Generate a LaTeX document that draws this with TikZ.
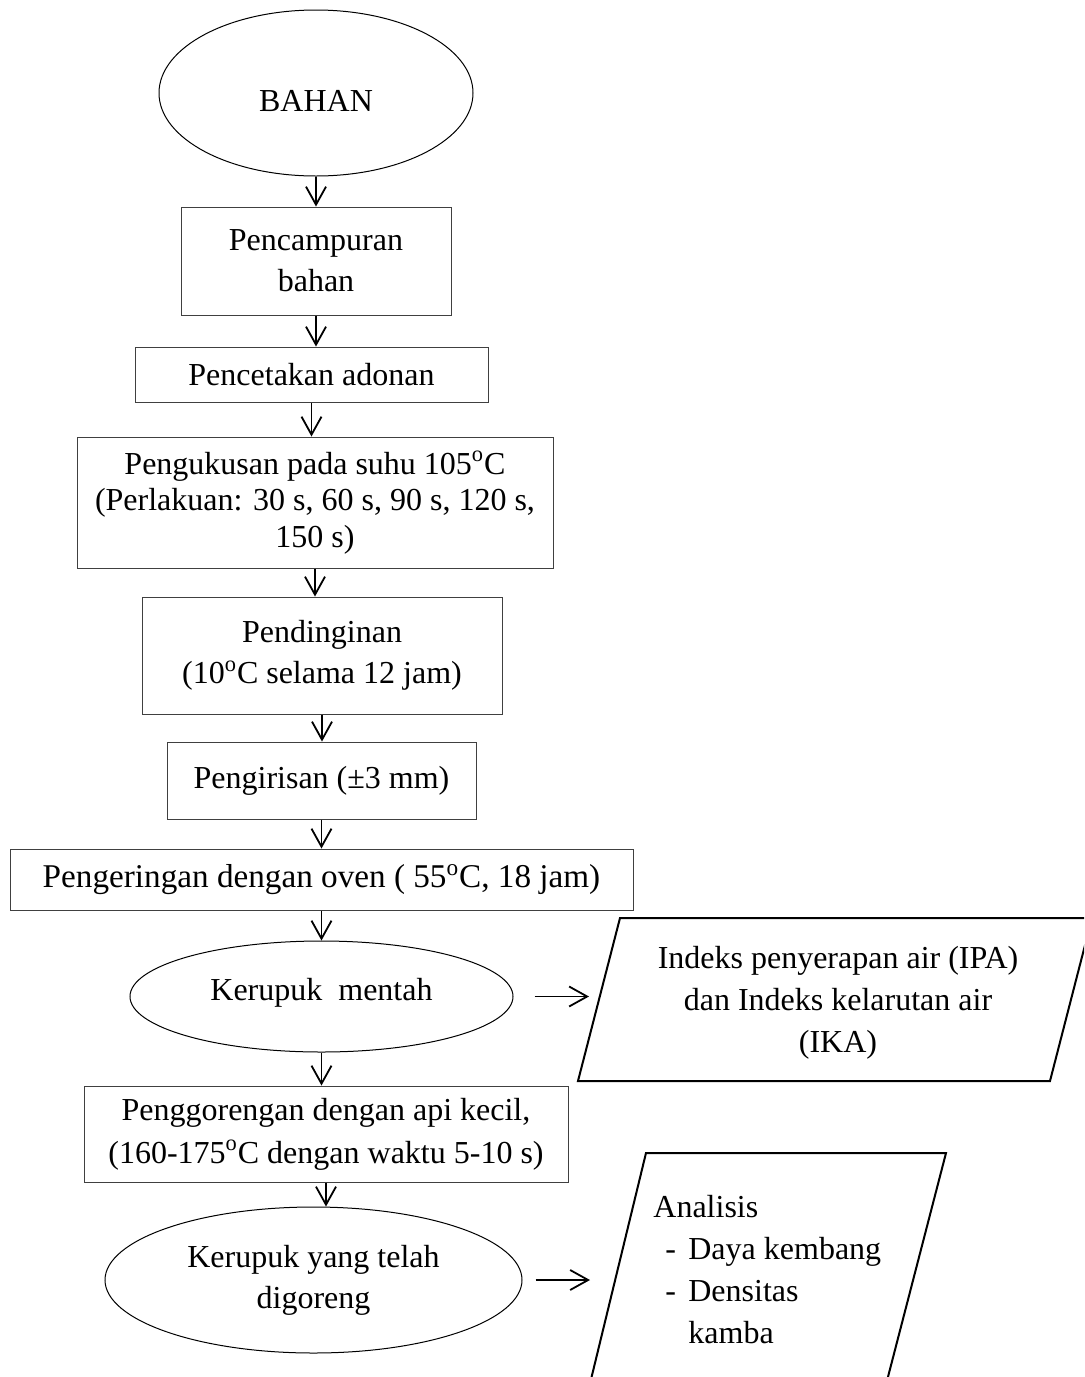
\documentclass[tikz,border=0pt]{standalone}
\usepackage{fontspec}
\setmainfont{Liberation Serif}
\usetikzlibrary{shapes.geometric,arrows.meta}
\begin{document}
\begin{tikzpicture}[x=0.5pt,y=-0.5pt,
  txt/.style={inner sep=0pt, align=center, font=\fontsize{16}{20.5}\selectfont},
  box/.style={txt, draw=black!75, line width=0.5pt, rectangle},
  oval/.style={txt, draw, line width=0.5pt, ellipse},
  arr/.style={line width=0.9pt, -{Straight Barb[length=9pt,width=10pt]}},
  para/.style={line width=1pt, line join=miter}
]
\useasboundingbox (0,0) rectangle (1084,1377);
\clip (0,0) rectangle (1084,1377);

\node[oval, minimum width=157pt, minimum height=83pt] (bahan) at (316,93) {\rule{0pt}{19pt}BAHAN};
\node[box, minimum width=135pt, minimum height=54pt] (pc) at (316,261) {Pencampuran\\bahan};
\node[box, minimum width=176.5pt, minimum height=27.5pt] (pa) at (311.5,374.5) {Pencetakan adonan};
\node[box, minimum width=238pt, minimum height=65.5pt, font=\fontsize{16}{18.25}\selectfont] (pk) at (315,502.5) {Pengukusan pada suhu 105\textsuperscript{o}C\\(Perlakuan: 30 s, 60 s, 90 s, 120 s,\\150 s)};
\node[box, minimum width=180pt, minimum height=58.5pt] (pd) at (322,655.5) {Pendinginan\\(10\textsuperscript{o}C selama 12 jam)};
\node[box, minimum width=154.5pt, minimum height=38.5pt] (pi) at (321.5,780.5) {Pengirisan (±3 mm)};
\node[box, minimum width=311.5pt, minimum height=30.5pt, font=\fontsize{16.6}{20.5}\selectfont] (pg) at (321.5,879.5) {Pengeringan dengan oven (~55\textsuperscript{o}C, 18 jam)};
\node[oval, minimum width=191.5pt, minimum height=55.5pt] (km) at (321.5,996.5) {\rule[-7pt]{0pt}{0pt}Kerupuk~~mentah};
\node[box, minimum width=242pt, minimum height=48pt, font=\fontsize{16}{21.5}\selectfont] (pf) at (326,1134) {Penggorengan dengan api kecil,\\(160-175\textsuperscript{o}C dengan waktu 5-10 s)};
\node[oval, minimum width=208.5pt, minimum height=73pt] (kd) at (313.5,1280) {Kerupuk yang telah\\digoreng};

\draw[arr] (bahan.south) -- (bahan.south |- pc.north);
\draw[arr] (pc.south) -- (pc.south |- pa.north);
\draw[arr] (pa.south) -- (pa.south |- pk.north);
\draw[arr] (pk.south) -- (pk.south |- pd.north);
\draw[arr] (pd.south) -- (pd.south |- pi.north);
\draw[arr] (pi.south) -- (pi.south |- pg.north);
\draw[arr] (pg.south) -- (pg.south |- km.north);
\draw[arr] (km.south) -- (km.south |- pf.north);
\draw[arr] (pf.south) -- (pf.south |- kd.north);

\draw[para] (620,918) -- (1092,918) -- (1050,1081) -- (578,1081) -- cycle;
\node[txt, font=\fontsize{16}{21}\selectfont] (ipa) at (838,1003) {Indeks penyerapan air (IPA)\\dan Indeks kelarutan air\\(IKA)};
\coordinate (e1) at (589,998);
\draw[arr, shorten <=10.5pt] (km.east) -- (km.east -| e1);

\draw[para] (646,1153) -- (946,1153) -- (882,1400) -- (586,1400) -- cycle;
\node[txt, anchor=north west, align=left, font=\fontsize{16}{21}\selectfont] (an) at (653,1195)
  {Analisis\\\makebox[17.5pt][l]{\hspace*{6pt}-}Daya kembang\\\makebox[17.5pt][l]{\hspace*{6pt}-}Densitas\\\hspace*{17.5pt}kamba};
\coordinate (e2) at (590,1276);
\draw[arr, shorten <=6.5pt] (kd.east) -- (kd.east -| e2);
\end{tikzpicture}
\end{document}
